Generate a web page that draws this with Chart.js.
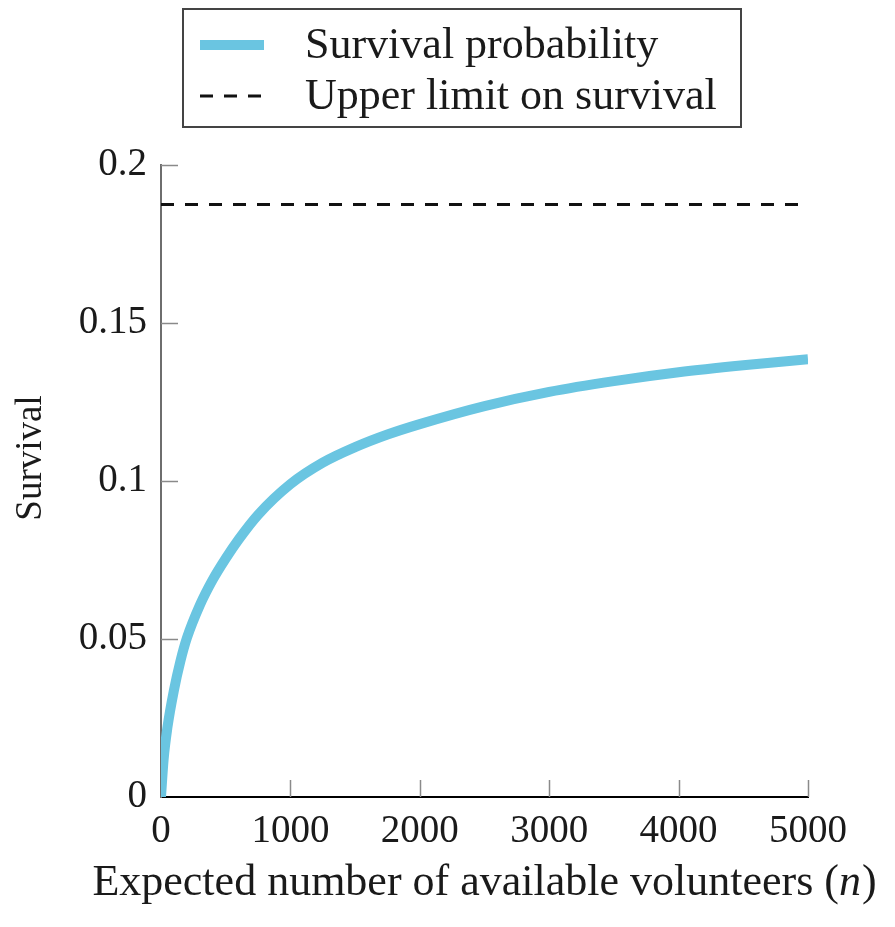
<!DOCTYPE html>
<html>
<head>
<meta charset="utf-8">
<title>Survival vs. volunteers</title>
<script src="https://cdn.jsdelivr.net/npm/chart.js@4.4.1/dist/chart.umd.min.js"></script>
<style>
  html, body { margin: 0; padding: 0; background: #fff; }
  #wrap { width: 895px; height: 927px; }
</style>
</head>
<body>
<div id="wrap"><canvas id="survivalChart" width="895" height="927"></canvas></div>
<script>
// expected number of available volunteers and the resulting survival
const volunteers = [0, 20, 50, 100, 150, 200, 300, 400, 500, 600, 750, 1000, 1250, 1500, 1750, 2000, 2500, 3000, 3500, 4000, 4500, 5000];
const survival = [0, 0.0118, 0.0221, 0.0338, 0.0430, 0.0503, 0.0607, 0.0688, 0.0755, 0.0815, 0.0893, 0.0990, 0.1058, 0.1107, 0.1147, 0.1180, 0.1237, 0.1282, 0.1316, 0.1344, 0.1366, 0.1385];
const upperLimit = 0.1875;
const xTicks = [0, 1000, 2000, 3000, 4000, 5000];
const yTicks = [0, 0.05, 0.1, 0.15, 0.2];
const seriesLabels = ['Survival probability', 'Upper limit on survival'];

const SERIF = '"Liberation Serif", "Times New Roman", serif';
const TEXT = '#1a1a1a';

// small ticks pointing into the plot
const innerTicks = {
  id: 'innerTicks',
  afterDraw(chart) {
    const { ctx, chartArea, scales } = chart;
    ctx.save();
    ctx.strokeStyle = '#8a8a8a';
    ctx.lineWidth = 1.5;
    ctx.beginPath();
    yTicks.forEach(v => {
      if (v === 0) return;
      const y = Math.round(scales.y.getPixelForValue(v)) + 0.5;
      ctx.moveTo(chartArea.left, y);
      ctx.lineTo(chartArea.left + 17, y);
    });
    xTicks.forEach(v => {
      if (v === 0) return;
      const x = Math.round(scales.x.getPixelForValue(v)) + 0.5;
      ctx.moveTo(x, chartArea.bottom);
      ctx.lineTo(x, chartArea.bottom - 17);
    });
    ctx.stroke();
    ctx.restore();
  }
};

// boxed legend above the plot
const boxLegend = {
  id: 'boxLegend',
  afterDraw(chart) {
    const { ctx } = chart;
    ctx.save();
    ctx.strokeStyle = '#444';
    ctx.lineWidth = 2;
    ctx.strokeRect(183, 9, 558, 118);
    chart.data.datasets.forEach((ds, i) => {
      const y = 45 + i * 51;
      ctx.beginPath();
      ctx.strokeStyle = ds.borderColor;
      ctx.lineWidth = ds.borderWidth;
      ctx.setLineDash(ds.borderDash || []);
      ctx.moveTo(200, y);
      ctx.lineTo(264, y);
      ctx.stroke();
      ctx.setLineDash([]);
      ctx.fillStyle = TEXT;
      ctx.font = '44px ' + SERIF;
      ctx.textBaseline = 'middle';
      ctx.textAlign = 'left';
      ctx.fillText(ds.label, 305, y + 1);
    });
    ctx.restore();
  }
};

// axis titles, the n in italics
const axisTitles = {
  id: 'axisTitles',
  afterDraw(chart) {
    const { ctx } = chart;
    ctx.save();
    ctx.fillStyle = TEXT;
    ctx.textBaseline = 'middle';

    const plain = 'Expected number of available volunteers (';
    const upright = '44px ' + SERIF;
    const italic = 'italic 44px ' + SERIF;
    ctx.font = upright;
    const w1 = ctx.measureText(plain).width;
    const w3 = ctx.measureText(')').width;
    ctx.font = italic;
    const w2 = ctx.measureText('n').width;
    let x = 484 - (w1 + w2 + w3) / 2;
    const y = 883;
    ctx.textAlign = 'left';
    ctx.font = upright;
    ctx.fillText(plain, x, y);
    ctx.font = italic;
    ctx.fillText('n', x + w1, y);
    ctx.font = upright;
    ctx.fillText(')', x + w1 + w2 + 1, y);

    ctx.translate(31, 458);
    ctx.rotate(-Math.PI / 2);
    ctx.textAlign = 'center';
    ctx.font = '37px ' + SERIF;
    ctx.fillText('Survival', 0, 0);
    ctx.restore();
  }
};

const tickFont = { family: SERIF, size: 39 };

new Chart(document.getElementById('survivalChart'), {
  type: 'line',
  data: {
    datasets: [
      {
        label: seriesLabels[0],
        data: volunteers.map((n, i) => ({ x: n, y: survival[i] })),
        borderColor: '#6ac5e1',
        borderWidth: 10,
        pointRadius: 0,
        cubicInterpolationMode: 'monotone',
        fill: false
      },
      {
        label: seriesLabels[1],
        data: [{ x: xTicks[0], y: upperLimit }, { x: xTicks[xTicks.length - 1], y: upperLimit }],
        borderColor: '#111',
        borderWidth: 3,
        borderDash: [13, 11],
        pointRadius: 0,
        fill: false
      }
    ]
  },
  options: {
    responsive: false,
    animation: false,
    events: [],
    layout: { padding: { left: 0, top: 165, right: 87, bottom: 0 } },
    plugins: {
      legend: { display: false },
      tooltip: { enabled: false }
    },
    scales: {
      x: {
        type: 'linear',
        min: 0,
        max: 5000,
        afterBuildTicks: s => { s.ticks = xTicks.map(v => ({ value: v })); },
        afterFit: s => { s.height = 130; },
        grid: { display: false, drawTicks: false },
        border: { display: true, color: '#000', width: 2 },
        ticks: { font: tickFont, color: TEXT, padding: 11, maxRotation: 0, autoSkip: false, callback: v => String(v) }
      },
      y: {
        type: 'linear',
        min: 0,
        max: 0.2,
        afterBuildTicks: s => { s.ticks = yTicks.map(v => ({ value: v })); },
        afterFit: s => { s.width = 161; },
        grid: { display: false, drawTicks: false },
        border: { display: true, color: '#6e6e6e', width: 2 },
        ticks: { font: tickFont, color: TEXT, padding: 14, autoSkip: false, callback: v => String(v) }
      }
    }
  },
  plugins: [innerTicks, boxLegend, axisTitles]
});
</script>
</body>
</html>
